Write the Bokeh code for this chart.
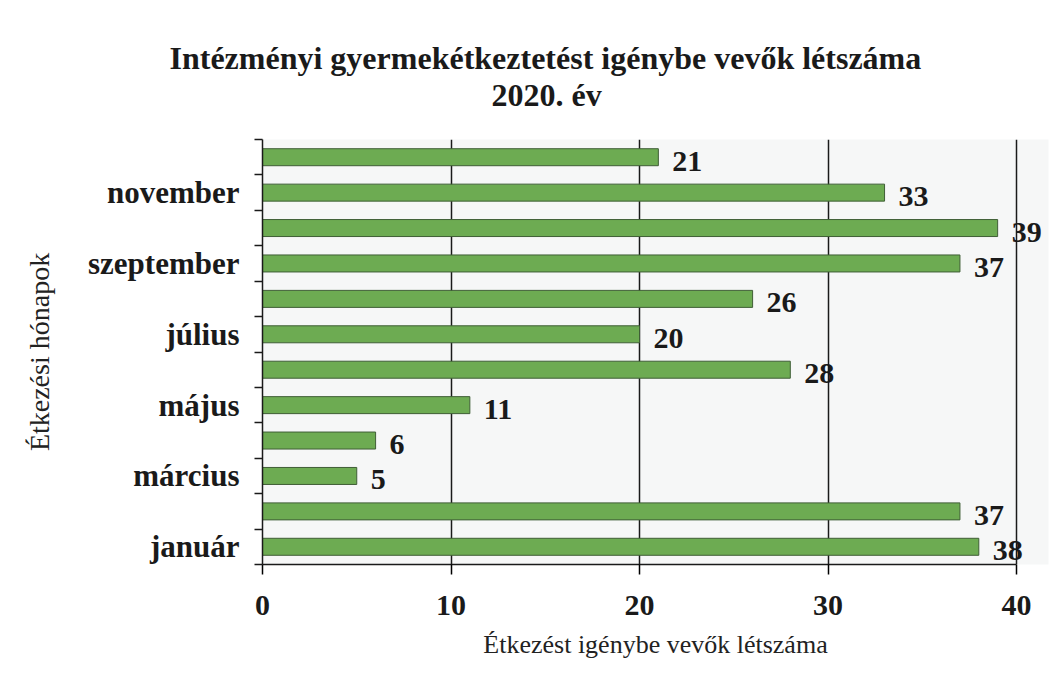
from bokeh.plotting import figure
from bokeh.models import Range1d, FixedTicker, Title, ColumnDataSource
from bokeh.core.properties import value
from bokeh.embed import file_html
from bokeh.resources import INLINE

months = ["január", "február", "március", "április", "május", "június",
          "július", "augusztus", "szeptember", "október", "november", "december"]
counts = [38, 37, 5, 6, 11, 28, 20, 26, 37, 39, 33, 21]
x_ticks = [0, 10, 20, 30, 40]
title_main = "Intézményi gyermekétkeztetést igénybe vevők létszáma"
title_sub = "2020. év"
x_title = "Étkezést igénybe vevők létszáma"
y_title = "Étkezési hónapok"

FONT = "Liberation Serif"
pos = list(range(len(months)))
src = ColumnDataSource(dict(y=pos, v=counts, lab=[str(c) for c in counts]))

LEFT = 262
frame_w = 1050 - LEFT - 2
x_end = 40 * frame_w / 754.0

p = figure(output_backend="svg", toolbar_location=None, title=None,
           frame_width=frame_w, frame_height=425,
           min_border_left=LEFT, min_border_right=2, min_border_top=139, min_border_bottom=106,
           x_range=Range1d(0, x_end), y_range=Range1d(-0.5, len(months) - 0.5),
           background_fill_color="#f6f7f7", border_fill_color="white")
p.outline_line_color = None

p.hbar(y="y", right="v", left=0, height=0.48, source=src,
       fill_color="#6dab52", line_color="#3f5e36", line_width=1)
p.text(x="v", y="y", text="lab", source=src, x_offset=14, y_offset=4,
       text_baseline="middle", text_align="left",
       text_font=value(FONT), text_font_style="bold", text_font_size="30px",
       text_color="#1a1a1a")

# x axis
xa = p.xaxis[0]
xa.ticker = FixedTicker(ticks=x_ticks)
xa.bounds = (0, 40)
xa.axis_line_color = "#1a1a1a"
xa.axis_line_width = 1.5
xa.major_tick_out = 10
xa.major_tick_in = 0
xa.major_tick_line_width = 1.5
xa.minor_tick_line_color = None
xa.major_label_text_font = FONT
xa.major_label_text_font_style = "bold"
xa.major_label_text_font_size = "30px"
xa.major_label_text_color = "#1a1a1a"
xa.major_label_standoff = 21
xa.axis_label = x_title
xa.axis_label_text_font = FONT
xa.axis_label_text_font_style = "normal"
xa.axis_label_text_font_size = "26px"
xa.axis_label_text_color = "#222222"
xa.axis_label_standoff = 12

# y axis
ya = p.yaxis[0]
ya.ticker = FixedTicker(ticks=pos[0::2], minor_ticks=[i - 0.5 for i in range(len(months) + 1)])
ya.major_label_overrides = {i: months[i] for i in pos[0::2]}
ya.axis_line_color = "#1a1a1a"
ya.axis_line_width = 1.5
ya.major_tick_line_color = None
ya.major_tick_out = 0
ya.major_tick_in = 0
ya.minor_tick_out = 8
ya.minor_tick_in = 0
ya.minor_tick_line_color = "#1a1a1a"
ya.minor_tick_line_width = 1.5
ya.major_label_text_font = FONT
ya.major_label_text_font_style = "bold"
ya.major_label_text_font_size = "31px"
ya.major_label_text_color = "#1a1a1a"
ya.major_label_standoff = 15
ya.axis_label = y_title
ya.axis_label_text_font = FONT
ya.axis_label_text_font_style = "normal"
ya.axis_label_text_font_size = "28px"
ya.axis_label_text_color = "#222222"
ya.axis_label_standoff = 30

p.xgrid.ticker = FixedTicker(ticks=x_ticks[1:])
p.xgrid.grid_line_color = "#1a1a1a"
p.xgrid.grid_line_width = 1.5
p.ygrid.grid_line_color = None

p.add_layout(Title(text=title_sub, align="left", offset=492 - LEFT - 1,
                   text_font=FONT, text_font_style="bold", text_font_size="32px",
                   text_color="#1a1a1a", standoff=54), "above")
p.add_layout(Title(text=title_main, align="left", offset=170 - LEFT - 1,
                   text_font=FONT, text_font_style="bold", text_font_size="32px",
                   text_color="#1a1a1a", standoff=-56), "above")

open("out.html", "w").write(file_html(p, INLINE))
